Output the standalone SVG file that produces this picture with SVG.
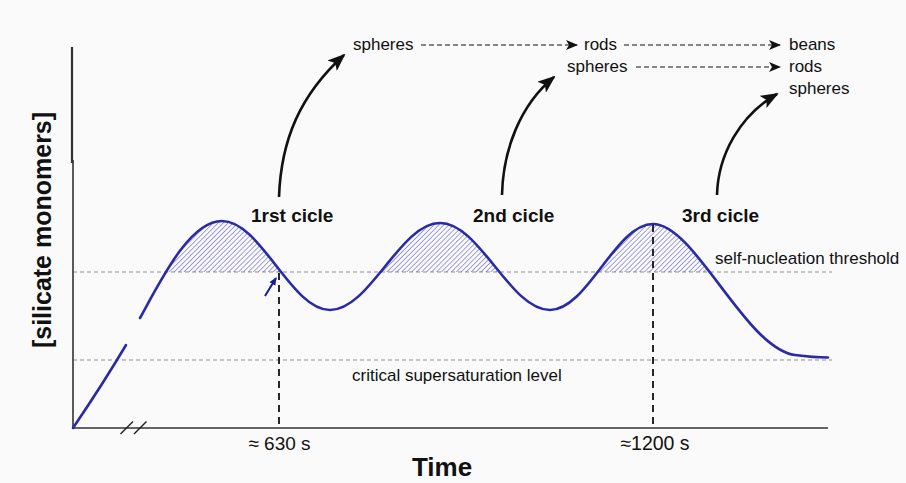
<svg xmlns="http://www.w3.org/2000/svg" width="906" height="483" viewBox="0 0 906 483">
<style>
text{font-family:"Liberation Sans",Arial,sans-serif;fill:#111}
.b{font-weight:bold}
.lab{font-size:17px}
.cyc{font-size:19px;font-weight:bold}
.guide{stroke:#8f8f8f;stroke-width:1;stroke-dasharray:4 3;fill:none}
.vd{stroke:#111;stroke-width:1.8;stroke-dasharray:7 5;fill:none}
.ax{stroke:#333;stroke-width:1.6;fill:none}
.curve{stroke:#2a2aa6;stroke-width:2.6;fill:none;stroke-linecap:round}
.flow{stroke:#111;stroke-width:1.2;stroke-dasharray:5 3;fill:none}
.big{stroke:#111;stroke-width:2.6;fill:none}
</style>
<defs>
<marker id="ah" markerUnits="userSpaceOnUse" markerWidth="12" markerHeight="10" refX="11" refY="5" orient="auto"><path d="M0,0 L12,5 L0,10 L3,5 Z" fill="#111"/></marker>
<marker id="ab" markerUnits="userSpaceOnUse" markerWidth="18" markerHeight="14" refX="16" refY="7" orient="auto"><path d="M0,0 L18,7 L0,14 L4,7 Z" fill="#111"/></marker>
<marker id="as" markerUnits="userSpaceOnUse" markerWidth="8" markerHeight="7" refX="7" refY="3.5" orient="auto"><path d="M0,0 L8,3.5 L0,7 Z" fill="#1a1a8c"/></marker>
<pattern id="hatch" width="3.5" height="4" patternUnits="userSpaceOnUse" patternTransform="rotate(45)"><line x1="0" y1="0" x2="0" y2="4" stroke="#4444cc" stroke-width="1"/></pattern>
<clipPath id="above"><rect x="0" y="0" width="906" height="272"/></clipPath>
</defs>
<rect width="906" height="483" fill="#fafafa"/>
<g id="guides">
<line class="guide" x1="73" y1="272" x2="832" y2="272"/>
<line class="guide" x1="73" y1="360" x2="832" y2="360"/>
</g>
<g id="hatching">
<path clip-path="url(#above)" fill="url(#hatch)" stroke="none" d="M140,318 C162,278 190,221 222,221 C261,221 291,310 330,310 C370,310 400,223 440,223 C480,223 510,310 550,310 C587.5,310 615.5,224 653,224 C695,224 745,348 795,355 C810,357 820,357.5 828,357.5 L828,428 L140,428 Z"/>
</g>
<g id="axes">
<line x1="72" y1="47" x2="72" y2="163" stroke="#333" stroke-width="2.2"/>
<line class="ax" x1="73" y1="160" x2="73" y2="428"/>
<line class="ax" x1="72" y1="428" x2="828" y2="428"/>
<line x1="120.5" y1="434" x2="133" y2="421.5" stroke="#222" stroke-width="1.4"/>
<line x1="134" y1="434" x2="146.5" y2="421.5" stroke="#222" stroke-width="1.4"/>
</g>
<g id="curve">
<path class="curve" d="M73,428 C92,400 110,372 126,345"/>
<path class="curve" d="M140,318 C162,278 190,221 222,221 C261,221 291,310 330,310 C370,310 400,223 440,223 C480,223 510,310 550,310 C587.5,310 615.5,224 653,224 C695,224 745,348 795,355 C810,357 820,357.5 828,357.5"/>
</g>
<g id="connectors">
<line class="vd" x1="279" y1="273" x2="279" y2="428"/>
<line class="vd" x1="653" y1="225" x2="653" y2="428"/>
<line x1="265" y1="296" x2="276" y2="278" stroke="#1a1a8c" stroke-width="2" marker-end="url(#as)"/>
<path class="big" d="M279,197 C281,140 300,95 344,55" marker-end="url(#ab)"/>
<path class="big" d="M502,195 C503,150 520,105 554,77" marker-end="url(#ab)"/>
<path class="big" d="M717,195 C718,155 740,115 777,94" marker-end="url(#ab)"/>
<line class="flow" x1="421" y1="45" x2="577" y2="45" marker-end="url(#ah)"/>
<line class="flow" x1="624" y1="45" x2="780" y2="45" marker-end="url(#ah)"/>
<line class="flow" x1="636" y1="67" x2="780" y2="67" marker-end="url(#ah)"/>
</g>
<g id="labels">
<text class="lab" x="353" y="50">spheres</text>
<text class="lab" x="584" y="50">rods</text>
<text class="lab" x="789" y="50">beans</text>
<text class="lab" x="567" y="72">spheres</text>
<text class="lab" x="789" y="72">rods</text>
<text class="lab" x="789" y="94">spheres</text>
<text class="cyc" x="251" y="222">1rst cicle</text>
<text class="cyc" x="473" y="222">2nd cicle</text>
<text class="cyc" x="682" y="222">3rd cicle</text>
<text x="715" y="264" font-size="17">self-nucleation threshold</text>
<text x="352" y="381" font-size="17">critical supersaturation level</text>
<text x="279.5" y="450" font-size="19" text-anchor="middle">≈ 630 s</text>
<text x="655" y="450" font-size="19.5" text-anchor="middle">≈1200 s</text>
<text class="b" x="442" y="476" font-size="26" text-anchor="middle">Time</text>
<text class="b" font-size="25" text-anchor="middle" transform="translate(51,230) rotate(-90)">[silicate monomers]</text>
</g>
</svg>
